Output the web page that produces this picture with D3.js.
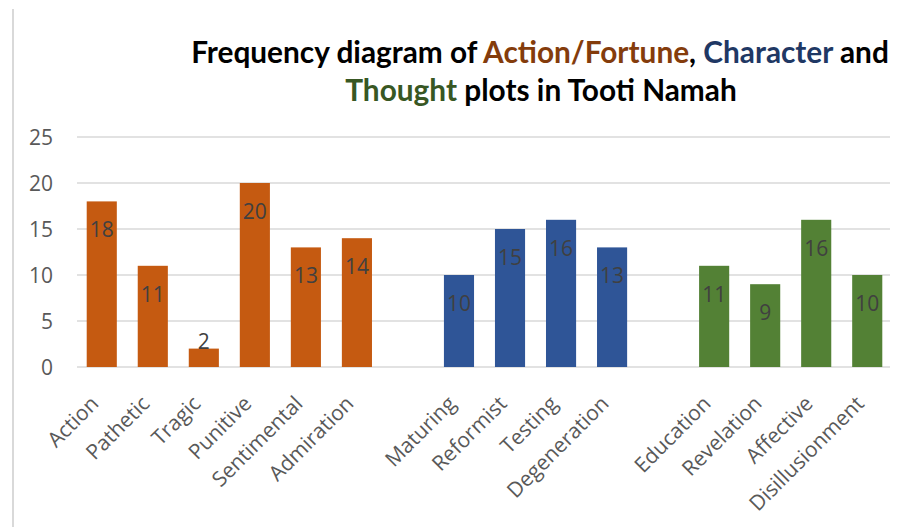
<!DOCTYPE html>
<html>
<head>
<meta charset="utf-8">
<title>Tooti Namah plots</title>
<style>
	body { margin: 0; background: #fff; }
	svg { display: block; }
	.tick text { font-family: "Open Sans", sans-serif; }
</style>
</head>
<body>
<svg width="912" height="527"></svg>
<script src="https://cdn.jsdelivr.net/npm/d3@7"></script>
<script>
	// data
	let actionCats = ["Action", "Pathetic", "Tragic", "Punitive", "Sentimental", "Admiration"]
	let actionVals = [18, 11, 2, 20, 13, 14]
	let characterCats = ["Maturing", "Reformist", "Testing", "Degeneration"]
	let characterVals = [10, 15, 16, 13]
	let thoughtCats = ["Education", "Revelation", "Affective", "Disillusionment"]
	let thoughtVals = [11, 9, 16, 10]
	let yTicks = [0, 5, 10, 15, 20, 25]

	let colors = { action: "#C55A11", character: "#2F5597", thought: "#538135" }

	// one list of slots, with an empty slot between the groups
	let rows = []
	actionCats.forEach((c, i) => rows.push({ key: c, label: c, value: actionVals[i], group: "action" }))
	rows.push({ key: "gap1", label: "", value: null })
	characterCats.forEach((c, i) => rows.push({ key: c, label: c, value: characterVals[i], group: "character" }))
	rows.push({ key: "gap2", label: "", value: null })
	thoughtCats.forEach((c, i) => rows.push({ key: c, label: c, value: thoughtVals[i], group: "thought" }))

	let svg = d3.select("svg")

	// left frame line
	svg.append("line")
		.attr("x1", 13).attr("x2", 13).attr("y1", 9).attr("y2", 527)
		.attr("stroke", "#d9d9d9").attr("stroke-width", 2)

	// title
	let title = svg.append("text")
		.attr("font-family", "Lato, sans-serif")
		.attr("font-weight", "bold")
		.attr("font-size", 29.8)
		.attr("text-anchor", "middle")
	let l1 = title.append("tspan").attr("x", 540).attr("y", 63)
	l1.append("tspan").text("Frequency diagram of ")
	l1.append("tspan").attr("fill", "#843C0C").text("Action/Fortune")
	l1.append("tspan").text(", ")
	l1.append("tspan").attr("fill", "#1F3864").text("Character")
	l1.append("tspan").text(" and")
	let l2 = title.append("tspan").attr("x", 541).attr("y", 101)
	l2.append("tspan").attr("fill", "#385723").text("Thought")
	l2.append("tspan").text(" plots in Tooti Namah")

	// scales
	let x = d3.scaleBand()
		.domain(rows.map(d => d.key))
		.range([76.5, 892.5])
		.paddingInner(0.41)
		.paddingOuter(0.2)
	let y = d3.scaleLinear().domain([0, 25]).range([367, 137])

	// gridlines
	svg.append("g")
		.selectAll("line")
		.data(yTicks)
		.join("line")
			.attr("x1", 77).attr("x2", 890)
			.attr("y1", d => y(d)).attr("y2", d => y(d))
			.attr("stroke", "#d9d9d9").attr("stroke-width", 1.5)

	// y axis labels
	let yAxis = svg.append("g")
		.attr("transform", "translate(57, 0)")
		.call(d3.axisLeft(y).tickValues(yTicks).tickSize(0).tickPadding(4))
	yAxis.select(".domain").remove()
	yAxis.selectAll("text")
		.attr("font-size", 21).attr("fill", "#595959")
		.attr("dy", "0.36em")

	// bars
	let bars = rows.filter(d => d.value != null)
	svg.append("g")
		.selectAll("rect")
		.data(bars)
		.join("rect")
			.attr("x", d => x(d.key))
			.attr("width", x.bandwidth())
			.attr("y", d => y(d.value))
			.attr("height", d => y(0) - y(d.value))
			.attr("fill", d => colors[d.group])

	// value labels (inside end, above the bar when it is too short)
	svg.append("g")
		.selectAll("text")
		.data(bars)
		.join("text")
			.attr("x", d => x(d.key) + x.bandwidth() / 2)
			.attr("y", d => (y(0) - y(d.value) < 30) ? y(d.value) : y(d.value) + 36)
			.attr("text-anchor", "middle")
			.attr("font-family", "Open Sans, sans-serif")
			.attr("font-size", 21)
			.attr("fill", "#404040")
			.text(d => d.value)

	// x axis labels
	let xAxis = svg.append("g")
		.attr("transform", "translate(0, 367)")
		.call(d3.axisBottom(x).tickSize(0).tickFormat(k => rows.find(r => r.key == k).label))
	xAxis.select(".domain").remove()
	xAxis.selectAll("text")
		.attr("font-size", 21).attr("fill", "#595959")
		.attr("text-anchor", "end")
		.attr("dy", 0).attr("y", 0)
		.attr("transform", "translate(-2, 38) rotate(-45)")
</script>
</body>
</html>
